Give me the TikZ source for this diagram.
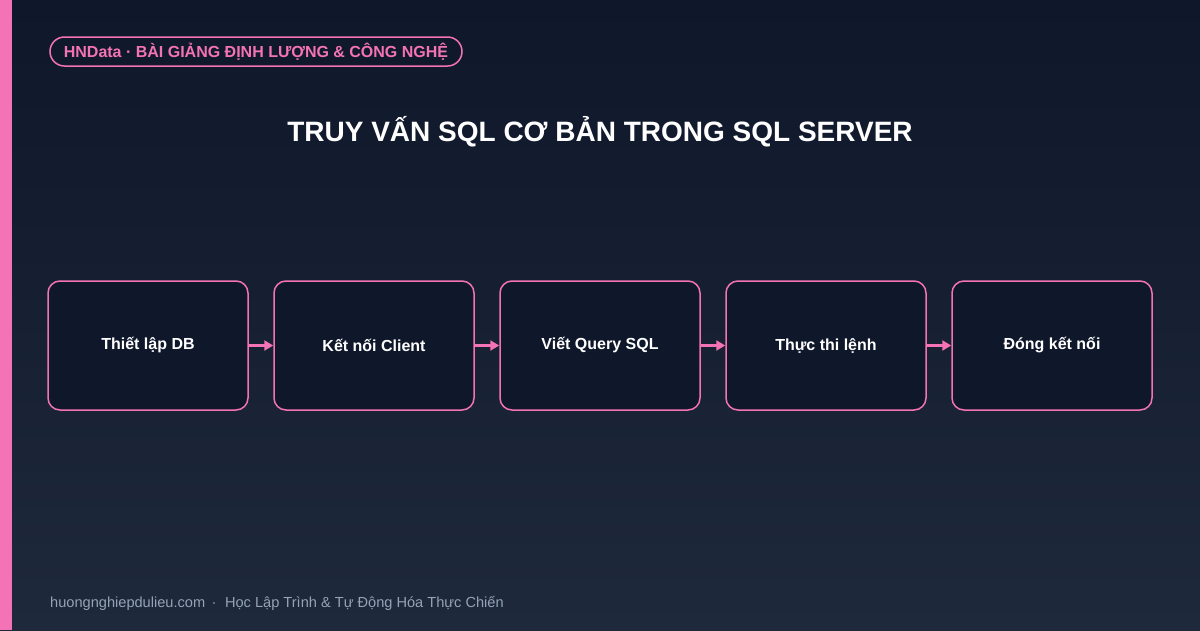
\documentclass[tikz,border=0pt]{standalone}
\usepackage{fontspec}
\setmainfont{Liberation Sans}
\usetikzlibrary{arrows.meta}
\definecolor{bgtop}{HTML}{0F172A}
\definecolor{bgbot}{HTML}{1E293B}
\definecolor{pink}{HTML}{F472B6}
\definecolor{boxfill}{HTML}{0F172A}
\definecolor{foot}{HTML}{94A3B8}
\tikzset{
  stepbox/.style={draw=pink, line width=1.5pt, fill=boxfill, rounded corners=12pt,
    minimum width=200pt, minimum height=129pt, inner sep=0pt,
    text=white, font=\fontsize{16}{19}\selectfont\bfseries},
  flow/.style={draw=pink, line width=2.5pt, -{Triangle[length=9pt,width=10pt]}},
}
\begin{document}
\begin{tikzpicture}[x=1pt,y=-1pt]
\useasboundingbox (0,0) rectangle (1200,630);
\shade[top color=bgtop, bottom color=bgbot] (0,0) rectangle (1200,630);
\fill[pink] (0,0) rectangle (12,630);
\node[draw=pink, line width=1.5pt, rounded corners=14.5pt, minimum width=412pt, minimum height=29pt, inner sep=0pt, text=pink, font=\fontsize{16}{19}\selectfont\bfseries] (tag) at (256,51.5) {HNData · BÀI GIẢNG ĐỊNH LƯỢNG \& CÔNG NGHỆ};
\node[text=white, font=\fontsize{28}{32}\selectfont\bfseries] (title) at (600,132) {TRUY VẤN SQL CƠ BẢN TRONG SQL SERVER};
\node[stepbox] (s1) at (148,345.5) {Thiết lập DB};
\node[stepbox] (s2) at (374,345.5) {Kết nối Client};
\node[stepbox] (s3) at (600,345.5) {Viết Query SQL};
\node[stepbox] (s4) at (826,345.5) {Thực thi lệnh};
\node[stepbox] (s5) at (1052,345.5) {Đóng kết nối};
\draw[flow] (s1.east) -- (s2.west);
\draw[flow] (s2.east) -- (s3.west);
\draw[flow] (s3.east) -- (s4.west);
\draw[flow] (s4.east) -- (s5.west);
\node[anchor=west, inner sep=0pt, text=foot, font=\fontsize{14.6}{17}\selectfont] (foot) at (50,603) {huongnghiepdulieu.com\hspace{6.5pt}·\hspace{8.5pt}Học Lập Trình \& Tự Động Hóa Thực Chiến};
\end{tikzpicture}
\end{document}
